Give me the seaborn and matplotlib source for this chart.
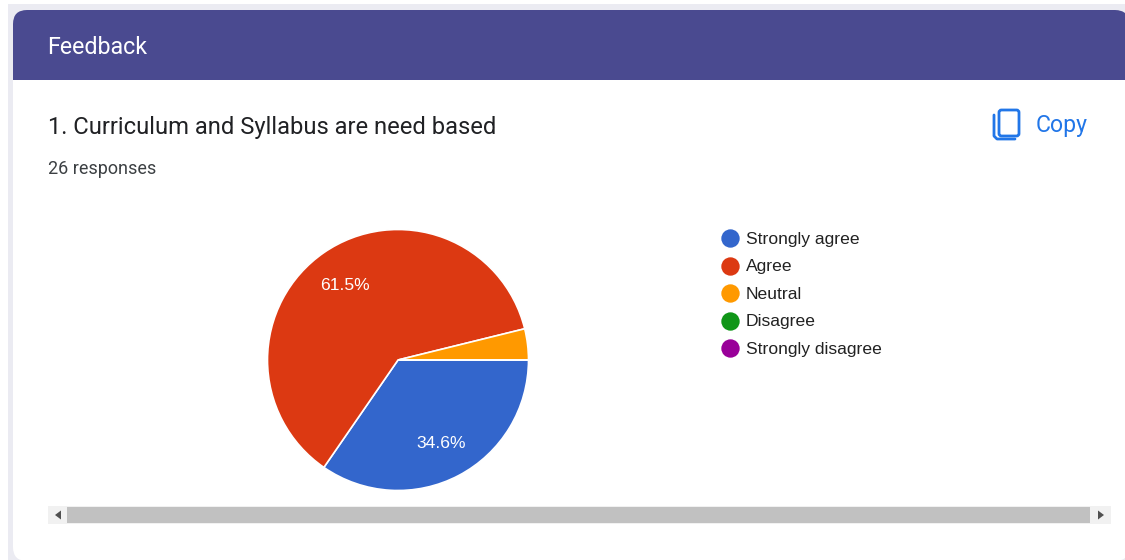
import matplotlib
matplotlib.use("Agg")
import matplotlib.pyplot as plt
from matplotlib.patches import FancyBboxPatch, Rectangle, Polygon
import seaborn as sns

labels = ['Strongly agree', 'Agree', 'Neutral', 'Disagree', 'Strongly disagree']
responses = [9, 16, 1, 0, 0]
colors = ['#3366cc', '#dc3912', '#ff9900', '#109618', '#990099']
header = 'Feedback'
question = '1. Curriculum and Syllabus are need based'
count_text = '26 responses'

sns.set_theme(style='white')
plt.rcParams['font.family'] = ['Roboto', 'DejaVu Sans']


def px(size):
    # font size in screen pixels to points
    return size * 72 / 100


def pct_label(pct):
    # small slices get no label, same as the forms chart
    return f'{pct:.1f}%' if pct > 5 else ''


W, H = 1125, 560
fig = plt.figure(figsize=(W / 100, H / 100), dpi=100, facecolor='white')

# whole figure in pixel coordinates for the page furniture
ax = fig.add_axes([0, 0, 1, 1])
ax.set_xlim(0, W)
ax.set_ylim(H, 0)
ax.axis('off')

# page background and card, the card ends right at the figure edge
ax.add_patch(Rectangle((8, 4), W, H, color='#ebebf2', lw=0, zorder=0))
ax.add_patch(FancyBboxPatch((27, 24), 1088, 523, boxstyle='round,pad=14,rounding_size=14',
                            fc='white', ec='none', zorder=1))
ax.add_patch(FancyBboxPatch((27, 24), 1088, 60, boxstyle='round,pad=14,rounding_size=14',
                            fc='#4a4a90', ec='none', zorder=2))
# flat bottom edge on the header
ax.add_patch(Rectangle((13, 80), 1112, 70, color='white', lw=0, zorder=2.5))
ax.add_patch(Rectangle((13, 40), 1112, 40, color='#4a4a90', lw=0, zorder=2.5))

ax.text(47.5, 47, header, color='white', fontsize=px(23.2), va='center', zorder=3)
ax.text(48.5, 127.5, question, color='#202124', fontsize=px(23.7), va='center', zorder=3)
ax.text(48.5, 168.5, count_text, color='#3c4043', fontsize=px(18), va='center', zorder=3)

# copy button
blue = '#2176e8'
ax.add_patch(FancyBboxPatch((999, 110), 20, 26, boxstyle='round,pad=0,rounding_size=2.5',
                            fc='none', ec=blue, lw=2.0, zorder=3))
ax.plot([994, 994, 997, 1015], [115, 136, 139, 139], color=blue, lw=2.0,
        solid_capstyle='round', zorder=3)
ax.text(1036, 125.5, 'Copy', color=blue, fontsize=px(23), va='center', zorder=3)

# legend
for i, (name, col) in enumerate(zip(labels, colors)):
    y = 238 + i * 27.5
    ax.scatter([730], [y], s=175, color=col, linewidths=0, zorder=3)
    ax.text(746, y + 1.4, name, color='#222222', fontsize=px(17.5), va='center',
            family=['Liberation Sans', 'DejaVu Sans'], zorder=3)

# scrollbar
ax.add_patch(Rectangle((48, 506), 1063, 18, color='#f1f1f1', lw=0, zorder=3))
ax.add_patch(Rectangle((67, 507), 1023, 16, color='#c1c1c1', lw=0, zorder=4))
ax.add_patch(Polygon([[55, 515], [61, 510.5], [61, 519.5]], color='#505050', lw=0, zorder=4))
ax.add_patch(Polygon([[1104, 515], [1098, 510.5], [1098, 519.5]], color='#505050', lw=0, zorder=4))

# pie, centre (398, 360) radius 130
cx, cy, r = 398, 360, 130.5
pie_ax = fig.add_axes([(cx - r) / W, 1 - (cy + r) / H, 2 * r / W, 2 * r / H])
pie_ax.patch.set_visible(False)
wedges, _, autotexts = pie_ax.pie(responses, colors=colors, radius=1, startangle=0, counterclock=False,
                                  autopct=pct_label, pctdistance=0.71,
                                  wedgeprops={'edgecolor': 'white', 'linewidth': 1.2})
pie_ax.set_xlim(-1, 1)
pie_ax.set_ylim(-1, 1)
for t in autotexts:
    t.set_color('white')
    t.set_fontsize(px(17.5))
    t.set_family(['Liberation Sans', 'DejaVu Sans'])
    # nudge labels down a little
    tx, ty = t.get_position()
    t.set_position((tx, ty - 1.5 / r))

fig.savefig('out.png', dpi=100)
